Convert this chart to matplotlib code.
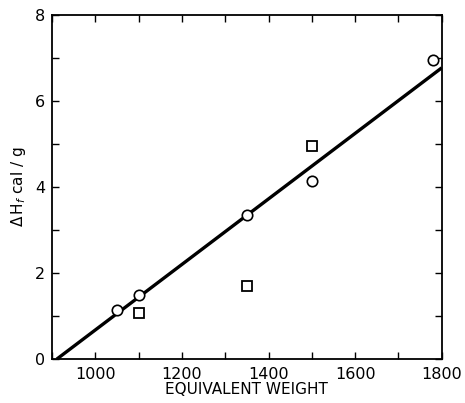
import matplotlib
matplotlib.use("Agg")
import matplotlib.pyplot as plt
from matplotlib.ticker import MultipleLocator

# Data
circle_x = [1050, 1100, 1350, 1500, 1780]
circle_y = [1.15, 1.50, 3.35, 4.13, 6.95]
square_x = [1100, 1350, 1500]
square_y = [1.08, 1.70, 4.95]
fit_x = [911, 1800]
fit_y = [0.0, 6.77]

plt.rcParams['font.family'] = ['DejaVu Sans']
fig = plt.figure(figsize=(4.65, 4.03), dpi=100)
ax = fig.add_axes([0.112, 0.109, 0.838, 0.854])

ax.plot(fit_x, fit_y, color='black', lw=2.4, solid_capstyle='butt', zorder=2)
ax.plot(circle_x, circle_y, 'o', ms=7.5, mfc='white', mec='black', mew=1.2, zorder=3)
ax.plot(square_x, square_y, 's', ms=6.5, mfc='white', mec='black', mew=1.3, zorder=3)

ax.set_xlim(900, 1800)
ax.set_ylim(0, 8)
ax.xaxis.set_major_locator(MultipleLocator(200))
ax.xaxis.set_minor_locator(MultipleLocator(100))
ax.yaxis.set_major_locator(MultipleLocator(2))
ax.yaxis.set_minor_locator(MultipleLocator(1))
ax.set_xticks([1000, 1200, 1400, 1600, 1800])
ax.tick_params(which='both', direction='in', top=True, right=True, width=1.0, labelsize=11.5)
ax.tick_params(which='major', length=5)
ax.tick_params(which='minor', length=5)
ax.tick_params(axis='x', pad=6)
ax.tick_params(axis='y', pad=5)
for s in ax.spines.values():
    s.set_linewidth(1.3)

ax.set_xlabel('EQUIVALENT WEIGHT', fontsize=11, labelpad=0)
ax.set_ylabel(r'$\Delta\,$H$_f$ cal / g', fontsize=11, labelpad=5)

fig.savefig('out.png', dpi=100)
